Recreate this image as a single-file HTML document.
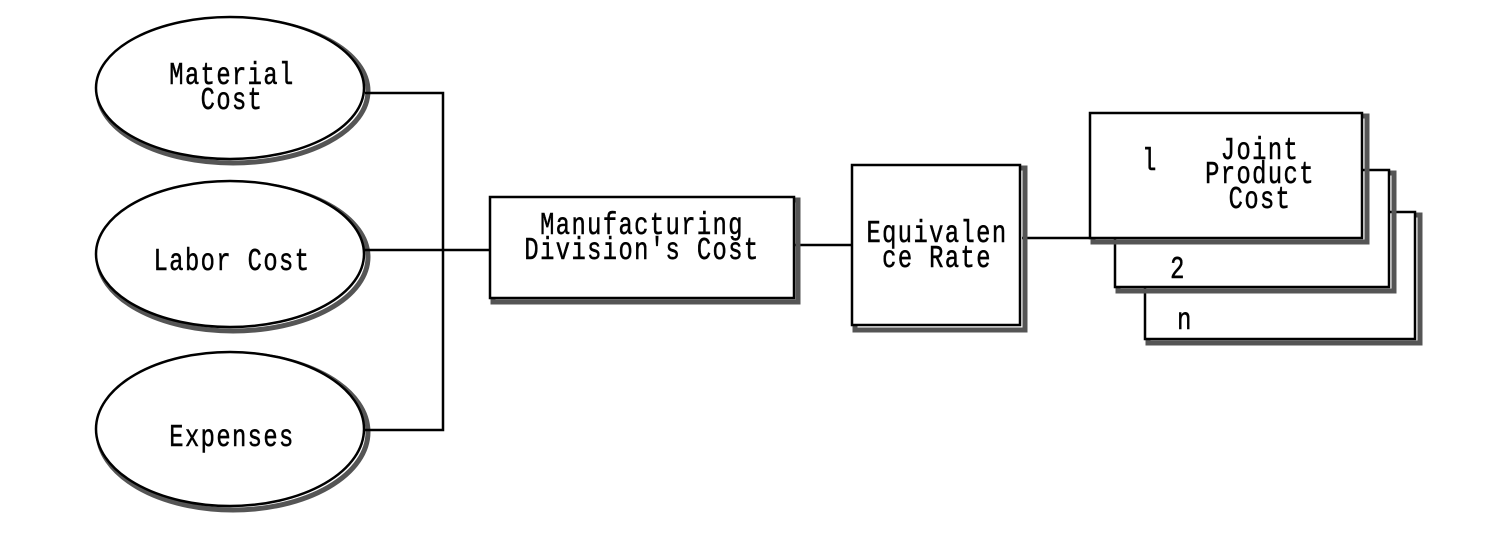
<!DOCTYPE html>
<html><head><meta charset="utf-8"><style>
html,body{margin:0;padding:0;background:#fff;}
svg text{font-family:"Liberation Mono","Noto Sans CJK JP",monospace;font-size:25px;fill:#000;stroke:#000;stroke-width:0.4;letter-spacing:1.5px;}
</style></head><body>
<svg width="1494" height="531" viewBox="0 0 1494 531" xmlns="http://www.w3.org/2000/svg">
<g stroke="#000" fill="none" stroke-width="2.5">
<ellipse cx="233" cy="91" rx="135" ry="72" stroke="#555" stroke-width="5"/>
<ellipse cx="230" cy="88" rx="134" ry="71" fill="#fff"/>
<ellipse cx="233" cy="257" rx="135" ry="74" stroke="#555" stroke-width="5"/>
<ellipse cx="230" cy="254" rx="134" ry="73" fill="#fff"/>
<ellipse cx="233" cy="432" rx="135" ry="78" stroke="#555" stroke-width="5"/>
<ellipse cx="230" cy="429" rx="134" ry="77" fill="#fff"/>
<polyline points="365,93 443,93 443,430 365,430"/>
<line x1="365" y1="250" x2="490" y2="250"/>
<line x1="795" y1="245" x2="852" y2="245"/>
<line x1="1022" y1="238" x2="1092" y2="238"/>
<rect x="493" y="200" width="305" height="102" stroke="#555" stroke-width="5"/>
<rect x="490" y="197" width="304" height="101" fill="#fff"/>
<rect x="855" y="168" width="170" height="162" stroke="#555" stroke-width="5"/>
<rect x="852" y="165" width="168" height="160" fill="#fff"/>
<rect x="1148" y="215" width="272" height="128" stroke="#555" stroke-width="5"/>
<rect x="1145" y="212" width="270" height="127" fill="#fff"/>
<rect x="1118" y="173" width="276" height="118" stroke="#555" stroke-width="5"/>
<rect x="1115" y="170" width="274" height="117" fill="#fff"/>
<rect x="1093" y="116" width="274" height="126" stroke="#555" stroke-width="5"/>
<rect x="1090" y="113" width="272" height="125" fill="#fff"/>
</g>
<g text-anchor="middle">
<text transform="translate(232,84) scale(0.95,1.25)">Material</text>
<text transform="translate(232,109) scale(0.95,1.25)">Cost</text>
<text transform="translate(232,270) scale(0.95,1.25)">Labor Cost</text>
<text transform="translate(232,446) scale(0.95,1.25)">Expenses</text>
<text transform="translate(642,234) scale(0.95,1.25)">Manufacturing</text>
<text transform="translate(642,259) scale(0.95,1.25)">Division's Cost</text>
<text transform="translate(937,242) scale(0.95,1.25)">Equivalen</text>
<text transform="translate(937,267) scale(0.95,1.25)">ce Rate</text>
<text transform="translate(1260,159) scale(0.95,1.25)">Joint</text>
<text transform="translate(1260,183) scale(0.95,1.25)">Product</text>
<text transform="translate(1260,208) scale(0.95,1.25)">Cost</text>
<text transform="translate(1150,170) scale(0.95,1.25)">l</text>
<text transform="translate(1178,278) scale(0.95,1.25)">2</text>
<text transform="translate(1185,329) scale(0.95,1.25)">n</text>
</g>
</svg>
</body></html>
